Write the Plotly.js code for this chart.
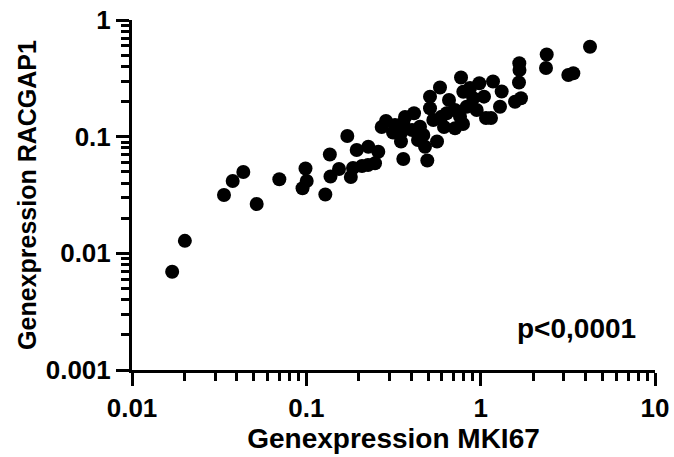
<!DOCTYPE html>
<html>
<head>
<meta charset="utf-8">
<script src="https://cdn.plot.ly/plotly-3.0.1.min.js"></script>
<style>html,body{margin:0;padding:0;background:#fff;}#chart{width:674px;height:457px;}</style>
</head>
<body>
<div id="chart"></div>
<script>
// Genexpression MKI67 (x) vs Genexpression RACGAP1 (y), one point per sample
const mki67 = [
  0.0170, 0.0201, 0.0337, 0.0378, 0.0435, 0.0519, 0.0700, 0.0989, 0.1005, 0.0951,
  0.1285, 0.1364, 0.1718, 0.1376, 0.154, 0.180, 0.1945, 0.1852, 0.2086, 0.2267,
  0.2587, 0.2477, 0.2258, 0.2864, 0.2706, 0.3143, 0.3491, 0.3599, 0.3681, 0.3524,
  0.3599, 0.4147, 0.4487, 0.4688, 0.5619, 0.4794, 0.4942, 0.5122, 0.5122, 0.535,
  0.5844, 0.6386, 0.6583, 0.7124, 0.7613, 0.7714, 0.7951, 0.9074, 0.949, 0.9822,
  1.045, 1.073, 1.146, 0.8315, 1.177, 1.32, 1.291, 1.666, 1.670, 1.659,
  1.703, 1.574, 2.392, 2.37, 3.182, 3.4, 4.238, 0.7124, 0.792, 0.404,
  0.6163, 0.3226, 0.8687, 0.5963, 0.4371
];
const racgap1 = [
  0.00696, 0.0128, 0.0316, 0.0417, 0.0498, 0.0265, 0.0431, 0.0534, 0.0417, 0.0361,
  0.0319, 0.0704, 0.1013, 0.0456, 0.0528, 0.0451, 0.0769, 0.0539, 0.0561, 0.0820,
  0.0743, 0.0591, 0.0572, 0.1362, 0.121, 0.1086, 0.0909, 0.0644, 0.1474, 0.1103,
  0.1302, 0.1586, 0.1217, 0.1033, 0.0909, 0.0820, 0.0625, 0.2202, 0.175, 0.139,
  0.2639, 0.1586, 0.2062, 0.1179, 0.1483, 0.3214, 0.2429, 0.2132, 0.1693, 0.2868,
  0.2202, 0.1445, 0.1445, 0.1806, 0.2971, 0.2439, 0.1806, 0.4254, 0.3727, 0.2912,
  0.2132, 0.1994, 0.506, 0.3878, 0.3378, 0.3493, 0.5904, 0.1693, 0.1284, 0.1141,
  0.121, 0.1259, 0.2614, 0.1483, 0.0936
];
const xTickVals = [0.01, 0.1, 1, 10];
const xTickText = ["0.01", "0.1", "1", "10"];
const yTickVals = [0.001, 0.01, 0.1, 1];
const yTickText = ["0.001", "0.01", "0.1", "1"];
const minorMult = [2, 3, 4, 5, 6, 7, 8, 9];
const xMinor = [0.01, 0.1, 1].flatMap(d => minorMult.map(m => +(d * m).toPrecision(3)));
const yMinor = [0.001, 0.01, 0.1].flatMap(d => minorMult.map(m => +(d * m).toPrecision(3)));
const xTitle = "Genexpression MKI67";
const yTitle = "Genexpression RACGAP1";
const pText = "p<0,0001";

const fontFam = "Liberation Sans, Arial, sans-serif";

const trace = {
  x: mki67, y: racgap1, type: "scatter", mode: "markers",
  marker: {color: "#000", size: 14, line: {width: 0}},
  hoverinfo: "x+y", cliponaxis: false
};

const layout = {
  width: 674, height: 457,
  margin: {l: 132, r: 19, t: 20, b: 87},
  paper_bgcolor: "#fff", plot_bgcolor: "#fff",
  showlegend: false,
  font: {family: fontFam, color: "#000"},
  xaxis: {
    type: "log", range: [-2, 1], showgrid: false, zeroline: false,
    showline: true, linecolor: "#000", linewidth: 3,
    ticks: "outside", ticklen: 13, tickwidth: 3, tickcolor: "#000",
    tickmode: "array", tickvals: xTickVals, ticktext: xTickText,
    tickfont: {family: fontFam, size: 26, color: "#000", weight: 700},
    minor: {tickmode: "array", tickvals: xMinor, ticks: "outside", ticklen: 8, tickwidth: 3, tickcolor: "#000", showgrid: false},
    title: {text: xTitle, standoff: 1, font: {family: fontFam, size: 28, color: "#000", weight: 700}}
  },
  yaxis: {
    type: "log", range: [-3, 0], showgrid: false, zeroline: false,
    showline: true, linecolor: "#000", linewidth: 3,
    ticks: "outside", ticklen: 13, tickwidth: 3, tickcolor: "#000",
    tickmode: "array", tickvals: yTickVals, ticktext: yTickText,
    tickfont: {family: fontFam, size: 26, color: "#000", weight: 700},
    minor: {tickmode: "array", tickvals: yMinor, ticks: "outside", ticklen: 8, tickwidth: 3, tickcolor: "#000", showgrid: false},
    title: {text: yTitle, standoff: 2, font: {family: fontFam, size: 25, color: "#000", weight: 700}}
  },
  annotations: [{
    text: pText, xref: "paper", yref: "paper", x: 0.968, y: 0.12,
    xanchor: "right", yanchor: "middle", showarrow: false,
    font: {family: fontFam, size: 28, color: "#000", weight: 700}
  }]
};

Plotly.newPlot("chart", [trace], layout, {displayModeBar: false, staticPlot: true});
</script>
</body>
</html>
